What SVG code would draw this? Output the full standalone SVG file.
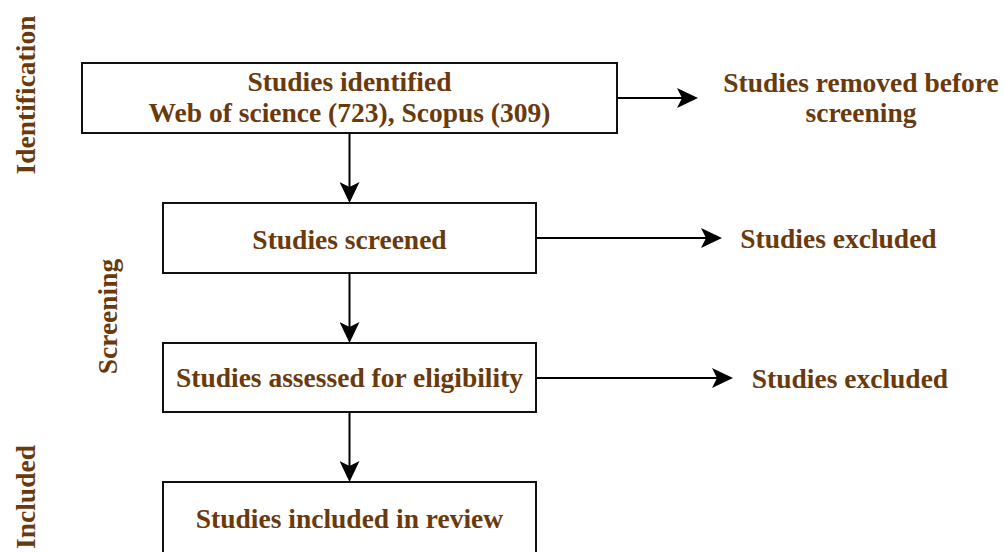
<svg xmlns="http://www.w3.org/2000/svg" width="1004" height="552" viewBox="0 0 1004 552">
  <defs>
    <marker id="arr" viewBox="0 0 21 20" refX="5" refY="10" markerWidth="21" markerHeight="20" markerUnits="userSpaceOnUse" orient="auto">
      <path d="M0,0 L21,10 L0,20 L5,10 Z" fill="#000"/>
    </marker>
    <style>
      .box { fill: #fff; stroke: #111; stroke-width: 2; }
      .t { font-family: "Liberation Serif", "Times New Roman", serif; font-weight: bold; font-size: 27.5px; fill: #6a3a0c; text-anchor: middle; }
      .c { fill: none; stroke: #000; stroke-width: 2; marker-end: url(#arr); }
    </style>
  </defs>
  <rect width="1004" height="552" fill="#fff"/>

  <g id="labels">
    <text class="t" transform="translate(35,95) rotate(-90)">Identification</text>
    <text class="t" transform="translate(117,316.5) rotate(-90)">Screening</text>
    <text class="t" transform="translate(35,497) rotate(-90)">Included</text>
  </g>

  <g id="connectors">
    <line class="c" x1="617" y1="98" x2="682" y2="98"/>
    <line class="c" x1="536" y1="238" x2="706" y2="238"/>
    <line class="c" x1="536" y1="378" x2="717" y2="378"/>
    <line class="c" x1="349.5" y1="133" x2="349.5" y2="187"/>
    <line class="c" x1="349.5" y1="273" x2="349.5" y2="327"/>
    <line class="c" x1="349.5" y1="412" x2="349.5" y2="466"/>
  </g>

  <g id="node-identified">
    <rect class="box" x="82" y="63" width="535" height="70"/>
    <text class="t" x="349.5" y="91">Studies identified</text>
    <text class="t" x="349.5" y="122">Web of science (723), Scopus (309)</text>
  </g>
  <g id="node-removed">
    <text class="t" x="861" y="92">Studies removed before</text>
    <text class="t" x="861" y="122">screening</text>
  </g>
  <g id="node-screened">
    <rect class="box" x="163" y="203" width="373" height="70"/>
    <text class="t" x="349.5" y="248.5">Studies screened</text>
  </g>
  <g id="node-excluded1">
    <text class="t" x="838.5" y="248">Studies excluded</text>
  </g>
  <g id="node-assessed">
    <rect class="box" x="163" y="343" width="373" height="69"/>
    <text class="t" x="349.5" y="387">Studies assessed for eligibility</text>
  </g>
  <g id="node-excluded2">
    <text class="t" x="850" y="388">Studies excluded</text>
  </g>
  <g id="node-included">
    <rect class="box" x="163" y="482" width="373" height="80"/>
    <text class="t" x="349.5" y="528">Studies included in review</text>
  </g>
</svg>
